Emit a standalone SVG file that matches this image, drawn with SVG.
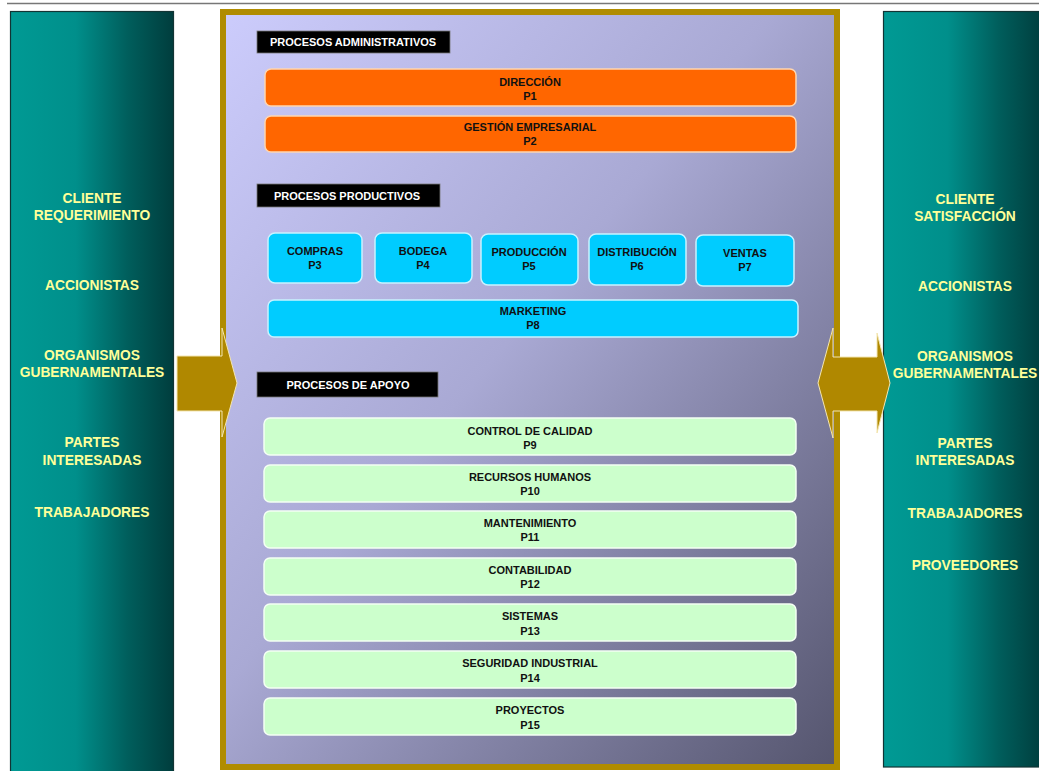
<svg xmlns="http://www.w3.org/2000/svg" width="1039" height="771" viewBox="0 0 1039 771">
  <defs>
    <linearGradient id="teal" x1="0" y1="0" x2="1" y2="0">
      <stop offset="0" stop-color="#009a94"/>
      <stop offset="0.4" stop-color="#008f8b"/>
      <stop offset="0.72" stop-color="#005e5c"/>
      <stop offset="1" stop-color="#003d3d"/>
    </linearGradient>
    <linearGradient id="frameFill" x1="0" y1="0" x2="1" y2="1">
      <stop offset="0" stop-color="#ccccfc"/>
      <stop offset="0.45" stop-color="#a9a9d4"/>
      <stop offset="1" stop-color="#55556e"/>
    </linearGradient>
    <style>
      .panel { fill: url(#teal); stroke: #123434; stroke-width: 1.2; }
      .ptext { font-family: "Liberation Sans", Arial, sans-serif; font-weight: bold; font-size: 13.8px; fill: #ffff99; text-anchor: middle; }
      .head { fill: #000; stroke: #777; stroke-width: 0.8; }
      .htext { font-family: "Liberation Sans", Arial, sans-serif; font-weight: bold; font-size: 11px; fill: #fff; text-anchor: middle; }
      .btext { font-family: "Liberation Sans", Arial, sans-serif; font-weight: bold; font-size: 11px; fill: #111; text-anchor: middle; }
      .orange { fill: #ff6600; stroke: #ffd6b0; stroke-width: 1.5; }
      .cyan { fill: #00ccff; stroke: #c8f2ff; stroke-width: 1.5; }
      .green { fill: #ccffcc; stroke: #f4fff4; stroke-width: 1.5; }
      .arrow { fill: #b08800; stroke: #f4e6b0; stroke-width: 1; }
    </style>
  </defs>

  <rect width="1039" height="771" fill="#fff"/>
  <line x1="7" y1="3.5" x2="1039" y2="3.5" stroke="#777" stroke-width="1.5"/>

  <!-- left stakeholder column -->
  <g id="left-panel">
    <rect class="panel" x="10.5" y="11.5" width="163" height="765"/>
    <text class="ptext" x="92" y="203">CLIENTE</text>
    <text class="ptext" x="92" y="220">REQUERIMIENTO</text>
    <text class="ptext" x="92" y="290">ACCIONISTAS</text>
    <text class="ptext" x="92" y="360">ORGANISMOS</text>
    <text class="ptext" x="92" y="377">GUBERNAMENTALES</text>
    <text class="ptext" x="92" y="447">PARTES</text>
    <text class="ptext" x="92" y="465">INTERESADAS</text>
    <text class="ptext" x="92" y="517">TRABAJADORES</text>
  </g>

  <!-- right stakeholder column -->
  <g id="right-panel">
    <rect class="panel" x="883.5" y="11.5" width="160" height="755.5"/>
    <text class="ptext" x="965" y="204">CLIENTE</text>
    <text class="ptext" x="965" y="221">SATISFACCIÓN</text>
    <text class="ptext" x="965" y="291">ACCIONISTAS</text>
    <text class="ptext" x="965" y="361">ORGANISMOS</text>
    <text class="ptext" x="965" y="378">GUBERNAMENTALES</text>
    <text class="ptext" x="965" y="448">PARTES</text>
    <text class="ptext" x="965" y="465">INTERESADAS</text>
    <text class="ptext" x="965" y="518">TRABAJADORES</text>
    <text class="ptext" x="965" y="570">PROVEEDORES</text>
  </g>

  <!-- process map frame -->
  <g id="process-frame">
    <rect x="223" y="12" width="614" height="755" fill="url(#frameFill)" stroke="#b08c00" stroke-width="6"/>
  </g>

  <g id="label-admin">
    <rect class="head" x="257" y="31" width="193" height="22"/>
    <text class="htext" x="353" y="46">PROCESOS ADMINISTRATIVOS</text>
  </g>
  <g id="p1">
    <rect class="orange" x="265" y="69" width="531" height="37" rx="6"/>
    <text class="btext" x="530" y="86">DIRECCIÓN</text>
    <text class="btext" x="530" y="100">P1</text>
  </g>
  <g id="p2">
    <rect class="orange" x="265" y="116" width="531" height="36" rx="6"/>
    <text class="btext" x="530" y="131">GESTIÓN EMPRESARIAL</text>
    <text class="btext" x="530" y="145">P2</text>
  </g>

  <g id="label-prod">
    <rect class="head" x="257" y="184" width="183" height="23"/>
    <text class="htext" x="347" y="199.5">PROCESOS PRODUCTIVOS</text>
  </g>
  <g id="p3">
    <rect class="cyan" x="268" y="233" width="94" height="50" rx="7"/>
    <text class="btext" x="315" y="255">COMPRAS</text>
    <text class="btext" x="315" y="269">P3</text>
  </g>
  <g id="p4">
    <rect class="cyan" x="375" y="233" width="97" height="50" rx="7"/>
    <text class="btext" x="423" y="255">BODEGA</text>
    <text class="btext" x="423" y="269">P4</text>
  </g>
  <g id="p5">
    <rect class="cyan" x="481" y="234" width="97" height="51" rx="7"/>
    <text class="btext" x="529" y="256">PRODUCCIÓN</text>
    <text class="btext" x="529" y="270">P5</text>
  </g>
  <g id="p6">
    <rect class="cyan" x="589" y="234" width="97" height="51" rx="7"/>
    <text class="btext" x="637" y="256">DISTRIBUCIÓN</text>
    <text class="btext" x="637" y="270">P6</text>
  </g>
  <g id="p7">
    <rect class="cyan" x="696" y="235" width="98" height="51" rx="7"/>
    <text class="btext" x="745" y="257">VENTAS</text>
    <text class="btext" x="745" y="271">P7</text>
  </g>
  <g id="p8">
    <rect class="cyan" x="268" y="300" width="530" height="37" rx="6"/>
    <text class="btext" x="533" y="315">MARKETING</text>
    <text class="btext" x="533" y="329">P8</text>
  </g>

  <g id="label-apoyo">
    <rect class="head" x="257" y="372" width="181" height="25"/>
    <text class="htext" x="348" y="388.5">PROCESOS DE APOYO</text>
  </g>
  <g id="p9">
    <rect class="green" x="264" y="418" width="532" height="37" rx="6"/>
    <text class="btext" x="530" y="435">CONTROL DE CALIDAD</text>
    <text class="btext" x="530" y="449">P9</text>
  </g>
  <g id="p10">
    <rect class="green" x="264" y="465" width="532" height="37" rx="6"/>
    <text class="btext" x="530" y="481">RECURSOS HUMANOS</text>
    <text class="btext" x="530" y="495">P10</text>
  </g>
  <g id="p11">
    <rect class="green" x="264" y="511" width="532" height="37" rx="6"/>
    <text class="btext" x="530" y="527">MANTENIMIENTO</text>
    <text class="btext" x="530" y="541">P11</text>
  </g>
  <g id="p12">
    <rect class="green" x="264" y="558" width="532" height="37" rx="6"/>
    <text class="btext" x="530" y="574">CONTABILIDAD</text>
    <text class="btext" x="530" y="588">P12</text>
  </g>
  <g id="p13">
    <rect class="green" x="264" y="604" width="532" height="37" rx="6"/>
    <text class="btext" x="530" y="620">SISTEMAS</text>
    <text class="btext" x="530" y="635">P13</text>
  </g>
  <g id="p14">
    <rect class="green" x="264" y="651" width="532" height="37" rx="6"/>
    <text class="btext" x="530" y="667">SEGURIDAD INDUSTRIAL</text>
    <text class="btext" x="530" y="682">P14</text>
  </g>
  <g id="p15">
    <rect class="green" x="264" y="698" width="532" height="37" rx="6"/>
    <text class="btext" x="530" y="714">PROYECTOS</text>
    <text class="btext" x="530" y="729">P15</text>
  </g>

  <!-- block arrows: input into the process map, exchange with the outputs -->
  <g id="connectors">
    <polygon class="arrow" points="177,356 222,356 222,328 237,383 222,437 222,411 177,411"/>
    <polygon class="arrow" points="818,383 833,328 833,357 877,357 877,333 890,383 877,433 877,411 833,411 833,438"/>
  </g>
</svg>
